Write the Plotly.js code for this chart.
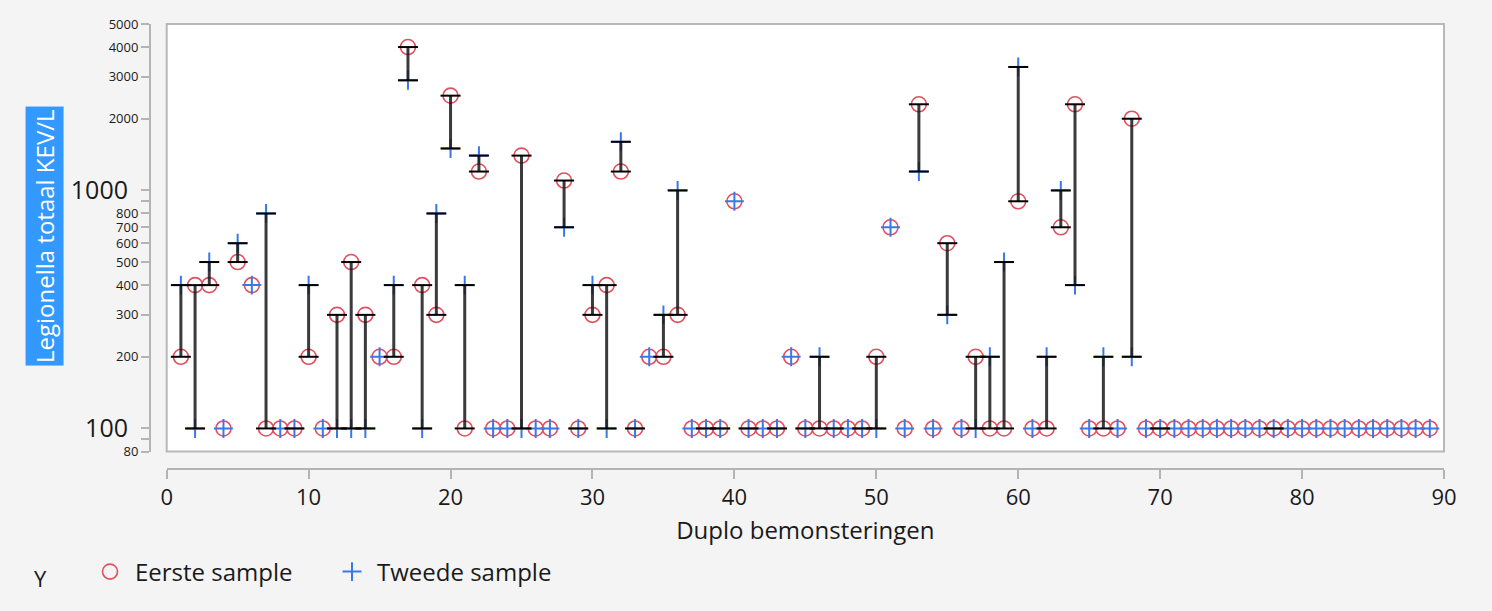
<!DOCTYPE html>
<html>
<head>
<meta charset="utf-8">
<script src="https://cdn.plot.ly/plotly-3.0.1.min.js"></script>
<style>
html,body{margin:0;padding:0;background:#f4f4f4;}
#chart{width:1492px;height:611px;}
</style>
</head>
<body>
<div id="chart"></div>
<script>
// Sample index (x)
const sampleIndex = [1,2,3,4,5,6,7,8,9,10,11,12,13,14,15,16,17,18,19,20,
  21,22,23,24,25,26,27,28,29,30,31,32,33,34,35,36,37,38,39,40,
  41,42,43,44,45,46,47,48,49,50,51,52,53,54,55,56,57,58,59,60,
  61,62,63,64,65,66,67,68,69,70,71,72,73,74,75,76,77,78,79,80,
  81,82,83,84,85,86,87,88,89];

// Eerste sample (circles)
const eersteSample = [200,400,400,100,500,400,100,100,100,200,
  100,300,500,300,200,200,4000,400,300,2500,
  100,1200,100,100,1400,100,100,1100,100,300,
  400,1200,100,200,200,300,100,100,100,900,
  100,100,100,200,100,100,100,100,100,200,
  700,100,2300,100,600,100,200,100,100,900,
  100,100,700,2300,100,100,100,2000,100,100,
  100,100,100,100,100,100,100,100,100,100,
  100,100,100,100,100,100,100,100,100];

// Tweede sample (crosses)
const tweedeSample = [400,100,500,100,600,400,800,100,100,400,
  100,100,100,100,200,400,2900,100,800,1500,
  400,1400,100,100,100,100,100,700,100,400,
  100,1600,100,200,300,1000,100,100,100,900,
  100,100,100,200,100,200,100,100,100,100,
  700,100,1200,100,300,100,100,200,500,3300,
  100,200,1000,400,100,200,100,200,100,100,
  100,100,100,100,100,100,100,100,100,100,
  100,100,100,100,100,100,100,100,100];

// Pairs with equal values that still show a (zero-length) range bar
const tiedPairsWithRange = [9,29,33,38,39,41,43,45,47,49,70,78];

// Axis ticks
const xTickValues = [0,10,20,30,40,50,60,70,80,90];
const yTickValues = [80,90,100,200,300,400,500,600,700,800,900,1000,2000,3000,4000,5000];
const yTickLabels = ['80','','','200','300','400','500','600','700','800','','','2000','3000','4000','5000'];
const yMajorTickValues = [100,1000];
const yMajorTickLabels = ['100','1000'];

// Build range bars and caps from the data
const barX = [], barY = [], capX = [], capY = [];
sampleIndex.forEach((x, k) => {
  const e = eersteSample[k], t = tweedeSample[k];
  if (e !== t) {
    barX.push(x, x, null); barY.push(e, t, null);
    capX.push(x, x); capY.push(e, t);
  } else if (tiedPairsWithRange.includes(x)) {
    capX.push(x); capY.push(e);
  }
});

const FONT = '"Open Sans", "Noto Sans", sans-serif';
const YRANGE = [Math.log10(80), Math.log10(5000)];

const traces = [
  {
    x: sampleIndex, y: eersteSample, type: 'scatter', mode: 'markers',
    name: 'Eerste sample',
    marker: {symbol: 'circle-open', size: 15, color: '#e0505f', line: {width: 1.6, color: '#e0505f'}},
    cliponaxis: false
  },
  {
    x: sampleIndex, y: tweedeSample, type: 'scatter', mode: 'markers',
    name: 'Tweede sample',
    marker: {symbol: 'cross-thin-open', size: 13.5, color: '#3b78e7', line: {width: 2, color: '#3b78e7'}},
    cliponaxis: false
  },
  {
    x: barX, y: barY, type: 'scatter', mode: 'lines', showlegend: false,
    line: {color: 'rgba(25,25,25,0.85)', width: 3}, hoverinfo: 'skip', connectgaps: false
  },
  {
    // caps drawn on the overlaying log axis (same range as the main y axis)
    x: capX, y: capY, yaxis: 'y2', type: 'scatter', mode: 'markers', showlegend: false,
    marker: {symbol: 'line-ew-open', size: 14.3, color: '#000', line: {width: 2, color: '#000'}},
    hoverinfo: 'skip', cliponaxis: false
  }
];

const layout = {
  width: 1492, height: 611,
  paper_bgcolor: '#f4f4f4', plot_bgcolor: '#ffffff',
  margin: {l: 150, r: 48, t: 24, b: 142, pad: 0},
  font: {family: FONT, color: '#1a1a1a'},
  showlegend: true,
  xaxis: {
    domain: [0.0129, 1], range: [0, 90], anchor: 'free', position: 0,
    showline: true, linecolor: '#b4b4b4', linewidth: 2,
    ticks: 'outside', ticklen: 9, tickwidth: 2, tickcolor: '#b4b4b4',
    tickmode: 'array', tickvals: xTickValues,
    showgrid: false, zeroline: false,
    tickfont: {family: FONT, size: 22, color: '#1a1a1a'},
    title: {text: 'Duplo bemonsteringen', font: {family: FONT, size: 24, color: '#1a1a1a'}, standoff: 11}
  },
  yaxis: {
    type: 'log', domain: [0.0393, 1], range: YRANGE,
    anchor: 'free', position: 0,
    showline: true, linecolor: '#b4b4b4', linewidth: 2,
    ticks: 'outside', ticklen: 8, tickwidth: 2, tickcolor: '#b4b4b4',
    tickmode: 'array', tickvals: yTickValues, ticktext: yTickLabels,
    showgrid: false, zeroline: false,
    tickfont: {family: FONT, size: 13, color: '#1a1a1a'}
  },
  yaxis2: {
    type: 'log', range: YRANGE, overlaying: 'y',
    anchor: 'free', position: 0, side: 'left',
    showline: false, ticks: 'outside', ticklen: 8, tickcolor: 'rgba(0,0,0,0)',
    ticklabelstandoff: 9,
    tickmode: 'array', tickvals: yMajorTickValues, ticktext: yMajorTickLabels,
    showgrid: false, zeroline: false,
    tickfont: {family: FONT, size: 25, color: '#1a1a1a'}
  },
  shapes: [{
    type: 'rect', xref: 'x domain', yref: 'y domain', x0: 0, x1: 1, y0: 0, y1: 1,
    line: {color: '#b8b8b8', width: 2}, fillcolor: 'rgba(0,0,0,0)', layer: 'above'
  }],
  annotations: [
    {
      xref: 'paper', yref: 'paper', x: -0.0811, y: 0.5236,
      xanchor: 'center', yanchor: 'middle', textangle: -90,
      text: 'Legionella totaal KEV/L', showarrow: false,
      font: {family: FONT, size: 24, color: '#ffffff'},
      bgcolor: '#3399ff', borderpad: 2
    },
    {
      xref: 'paper', yref: 'paper', x: -0.085, y: -0.245,
      xanchor: 'center', yanchor: 'middle',
      text: 'Y', showarrow: false,
      font: {family: FONT, size: 22, color: '#1a1a1a'}
    }
  ],
  legend: {
    orientation: 'h', xref: 'container', yref: 'container',
    x: 85 / 1492, xanchor: 'left', y: 39 / 611, yanchor: 'middle',
    bgcolor: 'rgba(0,0,0,0)', itemwidth: 40, entrywidth: 187,
    font: {family: FONT, size: 24, color: '#1a1a1a'}
  }
};

Plotly.newPlot('chart', traces, layout, {displayModeBar: false, staticPlot: true});
</script>
</body>
</html>
